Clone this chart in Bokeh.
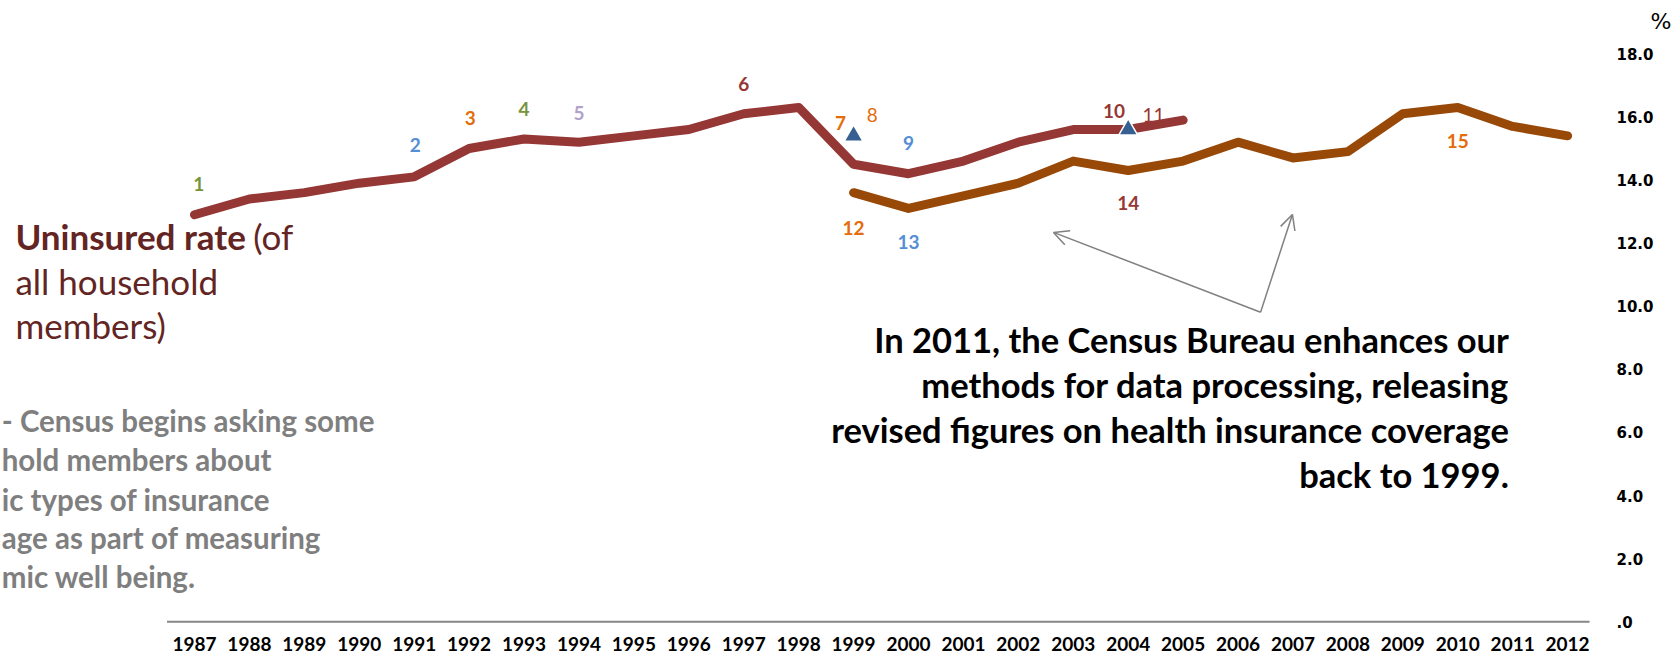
from bokeh.plotting import figure
from bokeh.models import Label, Arrow, OpenHead, FixedTicker, Range1d, LinearAxis
from bokeh.embed import file_html
from bokeh.resources import INLINE

# ---------------- data ----------------
years_orig = list(range(1987, 2006))
rate_orig = [12.9, 13.4, 13.6, 13.9, 14.1, 15.0, 15.3, 15.2, 15.4, 15.6,
             16.1, 16.3, 14.5, 14.2, 14.6, 15.2, 15.6, 15.6, 15.9]
years_rev = list(range(1999, 2013))
rate_rev = [13.6, 13.1, 13.5, 13.9, 14.6, 14.3, 14.6, 15.2, 14.7, 14.9,
            16.1, 16.3, 15.7, 15.4]
marker_years = [1999, 2004]
marker_vals = [15.4, 15.6]
x_tick_values = list(range(1987, 2013))
x_tick_labels = [str(y) for y in x_tick_values]
y_tick_values = [0, 2, 4, 6, 8, 10, 12, 14, 16, 18]
y_tick_labels = [".0", "2.0", "4.0", "6.0", "8.0", "10.0", "12.0", "14.0", "16.0", "18.0"]
unit_label = "%"

note_text = ["1", "2", "3", "4", "5", "6", "7", "8", "9", "10", "11", "12", "13", "14", "15"]
note_x = [1987.08, 1991.02, 1992.02, 1993.0, 1994.0, 1997.0, 1998.76, 1999.34,
          2000.0, 2003.74, 2004.46, 1999.0, 2000.0, 2004.0, 2010.0]
note_y = [13.87, 15.12, 15.97, 16.24, 16.14, 17.05, 15.8, 16.05,
          15.17, 16.18, 16.07, 12.48, 12.04, 13.26, 15.24]

# ---------------- styles ----------------
GREEN, BLUE, ORANGE, LAV, RED = "#77933C", "#558ED5", "#E46C0A", "#B3A2C7", "#953735"
note_colors = [GREEN, BLUE, ORANGE, GREEN, LAV, RED, ORANGE, ORANGE,
               BLUE, RED, RED, ORANGE, BLUE, RED, ORANGE]
note_styles = ["bold"] * 7 + ["normal"] + ["bold"] * 2 + ["normal"] + ["bold"] * 4

FONT = "Lato"

p = figure(width=1674, height=658,
           x_range=Range1d(1983.468, 2012.49), y_range=Range1d(-0.056, 19.69),
           output_backend="svg", toolbar_location=None,
           x_axis_location="below", y_axis_location="right",
           min_border_left=0, min_border_top=0, min_border_right=80, min_border_bottom=35)
p.outline_line_color = None
p.grid.visible = False
p.background_fill_color = "white"
p.border_fill_color = "white"

# x axis
xa = p.xaxis[0]
xa.ticker = FixedTicker(ticks=x_tick_values)
xa.major_label_overrides = dict(zip(x_tick_values, x_tick_labels))
xa.axis_line_color = None
xa.major_tick_line_color = None
xa.minor_tick_line_color = None
xa.major_tick_out = 0
xa.major_tick_in = 0
xa.minor_tick_out = 0
xa.major_label_standoff = 13
xa.major_label_text_font = FONT
xa.major_label_text_font_style = "bold"
xa.major_label_text_font_size = "19px"
xa.major_label_text_color = "#000000"

# y axis (right)
ya = p.yaxis[0]
ya.ticker = FixedTicker(ticks=y_tick_values)
ya.major_label_overrides = dict(zip(y_tick_values, y_tick_labels))
ya.axis_line_color = None
ya.major_tick_line_color = None
ya.minor_tick_line_color = None
ya.major_tick_out = 0
ya.major_tick_in = 0
ya.minor_tick_out = 0
ya.major_label_standoff = 22
ya.major_label_text_font = "DejaVu Sans"
ya.major_label_text_font_style = "bold"
ya.major_label_text_font_size = "15px"
ya.major_label_text_color = "#000000"

# unit label as an outer right axis
ua = LinearAxis(ticker=FixedTicker(ticks=[19.03]), major_label_overrides={19.03: unit_label},
                axis_line_color=None, major_tick_line_color=None, minor_tick_line_color=None,
                major_tick_out=0, major_tick_in=0, minor_tick_out=0,
                major_label_standoff=-6, major_label_text_font="DejaVu Sans",
                major_label_text_font_size="22px", major_label_text_color="#000000")
p.add_layout(ua, "right")

# baseline
p.segment(x0=[x_tick_values[0] - 0.5], y0=[0], x1=[x_tick_values[-1] + 0.4], y1=[0],
          line_color="#868686", line_width=2)

# series
p.line(years_orig, rate_orig, line_color="#953735", line_width=9,
       line_cap="round", line_join="round")
p.line(years_rev, rate_rev, line_color="#984807", line_width=9,
       line_cap="round", line_join="round")
p.scatter(marker_years, marker_vals, marker="triangle", size=19,
          fill_color="#376092", line_color="white", line_width=1.5)

# number notes
for t, x, y, c, s in zip(note_text, note_x, note_y, note_colors, note_styles):
    p.add_layout(Label(x=x, y=y, text=t, text_font=FONT, text_font_size="19px",
                       text_font_style=s, text_color=c, text_align="center",
                       text_baseline="middle"))

# Uninsured rate text
UCOL = "#632523"
p.add_layout(Label(x=1983.74, y=12.22, text="Uninsured rate", text_font=FONT,
                   text_font_size="35px", text_font_style="bold", text_color=UCOL,
                   text_align="left", text_baseline="middle"))
p.add_layout(Label(x=1988.07, y=12.22, text="(of", text_font=FONT,
                   text_font_size="35px", text_color=UCOL,
                   text_align="left", text_baseline="middle"))
for txt, y in [("all household", 10.79), ("members)", 9.4)]:
    p.add_layout(Label(x=1983.74, y=y, text=txt, text_font=FONT,
                       text_font_size="35px", text_color=UCOL,
                       text_align="left", text_baseline="middle"))

# gray note text (clipped at left in the original)
gray_lines = ["- Census begins asking some", "hold members about",
              "ic  types of insurance", "age as part of measuring", "mic well being."]
gray_y = [6.37, 5.13, 3.89, 2.66, 1.42]
for txt, y in zip(gray_lines, gray_y):
    p.add_layout(Label(x=1983.49, y=y, text=txt, text_font=FONT,
                       text_font_size="29.5px", text_font_style="bold", text_color="#7F7F7F",
                       text_align="left", text_baseline="middle"))

# annotation text
ann_lines = ["In 2011, the Census Bureau enhances our",
             "methods for data processing, releasing",
             "revised figures on health insurance coverage",
             "back to 1999."]
ann_y = [8.93, 7.51, 6.09, 4.68]
for txt, y in zip(ann_lines, ann_y):
    p.add_layout(Label(x=2010.93, y=y, text=txt, text_font=FONT,
                       text_font_size="34.5px", text_font_style="bold", text_color="#000000",
                       text_align="right", text_baseline="middle"))

# arrows
for xe, ye in [(2002.64, 12.34), (2006.99, 12.91)]:
    p.add_layout(Arrow(end=OpenHead(size=15, line_color="#808080", line_width=1.5),
                       x_start=2006.41, y_start=9.81, x_end=xe, y_end=ye,
                       line_color="#808080", line_width=1.5))

open("out.html", "w").write(file_html(p, INLINE))
